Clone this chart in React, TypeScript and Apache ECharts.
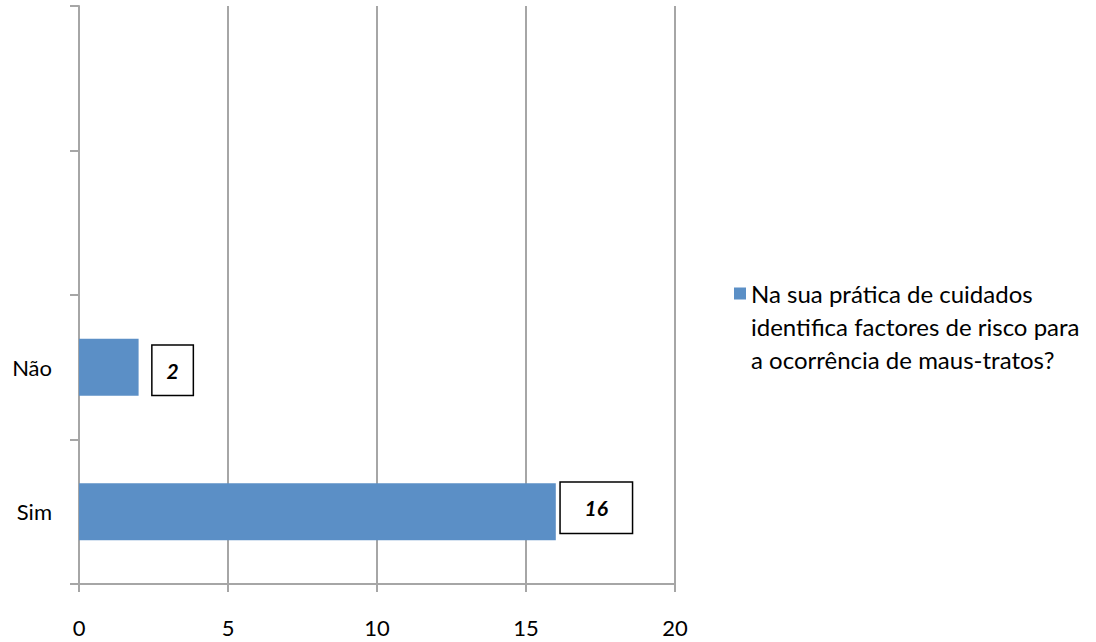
import React, { useEffect, useRef } from "react";
import * as echarts from "echarts";

const categories = ["Sim", "Não", "", ""];
const values = [16, 2, null, null];
const seriesName = "Na sua prática de cuidados identifica factores de risco para a ocorrência de maus-tratos?";
const legendLines = ["Na sua prática de cuidados", "identifica factores de risco para", "a ocorrência de maus-tratos?"];
const xTicks = { min: 0, max: 20, interval: 5 };

const FONT = "Lato, 'Liberation Sans', sans-serif";

export default function App() {
  const ref = useRef<HTMLDivElement>(null);
  useEffect(() => {
    if (!ref.current) return;
    const chart = echarts.init(ref.current, undefined, { renderer: "svg" });
    const boxStyle = (w: number, h: number) => ({
      width: w,
      height: h,
      lineHeight: h,
      align: "center",
      verticalAlign: "middle",
      color: "#000",
      fontFamily: FONT,
      fontSize: 21,
      fontWeight: "bold",
      fontStyle: "italic",
      backgroundColor: "#fff",
      borderColor: "#000",
      borderWidth: 1.5,
    });
    const labelCfg = [
      {
        show: true,
        position: "right",
        distance: 5,
        offset: [0, -4],
        formatter: "{b|{c}}",
        rich: { b: boxStyle(71, 50) },
      },
      {
        show: true,
        position: "right",
        distance: 14,
        offset: [0, 3],
        formatter: "{b|{c}}",
        rich: { b: boxStyle(40, 49) },
      },
    ];
    chart.setOption({
      animation: false,
      grid: { left: 79, right: 421, top: 6, bottom: 58, containLabel: false },
      legend: {
        show: true,
        left: 729,
        top: 206,
        orient: "vertical",
        itemWidth: 12,
        itemHeight: 12,
        itemGap: 0,
        icon: "rect",
        data: [seriesName],
        formatter: () => "\n\n" + legendLines.join("\n"),
        textStyle: {
          fontFamily: FONT,
          fontSize: 24,
          color: "#000",
          lineHeight: 33,
        },
      },
      xAxis: {
        type: "value",
        min: xTicks.min,
        max: xTicks.max,
        interval: xTicks.interval,
        axisLine: { show: true, lineStyle: { color: "#a6a6a6", width: 2 } },
        axisTick: { show: true, length: 8, lineStyle: { color: "#a6a6a6", width: 2 } },
        splitLine: { show: true, lineStyle: { color: "#a6a6a6", width: 2 } },
        axisLabel: { color: "#000", fontFamily: FONT, fontSize: 22, margin: 32 },
      },
      yAxis: {
        type: "category",
        data: categories,
        boundaryGap: true,
        axisLine: { show: true, lineStyle: { color: "#a6a6a6", width: 2 } },
        axisTick: { show: true, length: 9, lineStyle: { color: "#a6a6a6", width: 2 } },
        splitLine: { show: false },
        axisLabel: { color: "#000", fontFamily: FONT, fontSize: 22, margin: 27 },
      },
      series: [
        {
          name: seriesName,
          type: "bar",
          barWidth: 57,
          itemStyle: { color: "#5b8fc6" },
          data: values.map((v, i) => (v === null ? null : { value: v, label: labelCfg[i] })),
        },
      ],
    });
    return () => chart.dispose();
  }, []);
  return <div ref={ref} style={{ width: 1096, height: 642, position: "absolute", left: 0, top: 0 }} />;
}
